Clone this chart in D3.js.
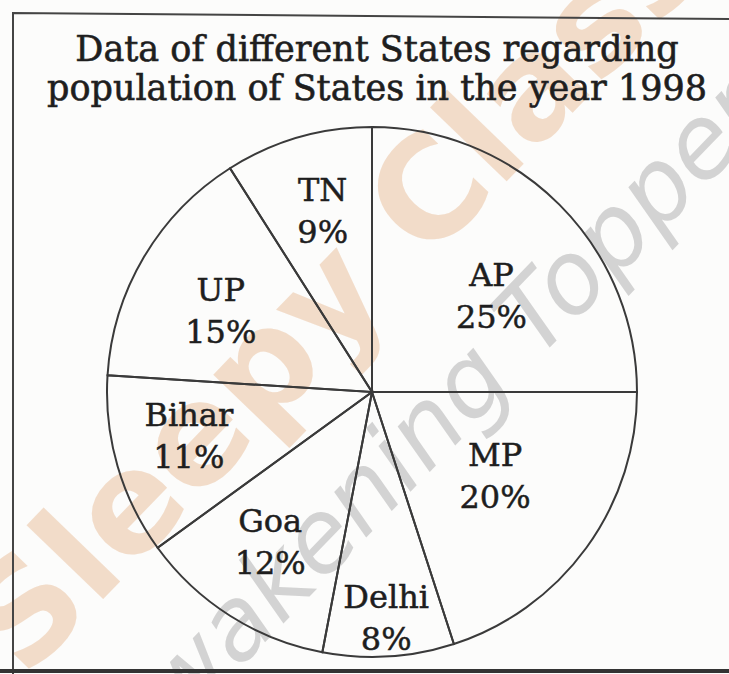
<!DOCTYPE html>
<html>
<head>
<meta charset="utf-8">
<script src="https://cdn.jsdelivr.net/npm/d3@7"></script>
<style>
  html, body { margin: 0; padding: 0; background: #fcfcfb; }
  svg { display: block; }
</style>
</head>
<body>
<svg id="chart" width="729" height="674"></svg>
<script>
// states and their share of population (1998), clockwise from 12 o'clock
const states = ["AP", "MP", "Delhi", "Goa", "Bihar", "UP", "TN"];
const shares = [25, 20, 8, 12, 11, 15, 9];
const titleLines = [
    "Data of different States regarding",
    "population of States in the year 1998"
];

const width = 729, height = 674;
const cx = 372, cy = 392, radius = 265;

// where each label sits, as a fraction of the radius (+ small angle nudge, degrees)
const labelPlace = {
    AP: [0.58, 6], MP: [0.56, -2], Delhi: [0.85, 0], Goa: [0.68, 2],
    Bihar: [0.71, 3], UP: [0.65, -2], TN: [0.71, 1]
};

const svg = d3.select("#chart");
const serif = "'DejaVu Serif', 'Liberation Serif', serif";
const ink = "#1e1e1e";

// watermarks of the scan
svg.append("text")
    .attr("transform", "translate(25,680) rotate(-46)")
    .attr("font-family", "'DejaVu Sans', sans-serif")
    .attr("font-weight", "bold")
    .attr("font-size", 140)
    .attr("fill", "#f1d8c3")
    .attr("fill-opacity", 0.9)
    .text("Sleepy Classes");

svg.append("text")
    .attr("transform", "translate(134,778) rotate(-46)")
    .attr("font-family", "'DejaVu Sans', sans-serif")
    .attr("font-style", "italic")
    .attr("font-size", 100)
    .attr("fill", "#c6c6c6")
    .attr("fill-opacity", 0.75)
    .text("Awakening Toppers");

// frame of the scanned figure
svg.append("path")
    .attr("d", "M13,674 L13,13 L729,19")
    .attr("fill", "none")
    .attr("stroke", "#444")
    .attr("stroke-width", 2);
svg.append("line")
    .attr("x1", 0).attr("x2", width)
    .attr("y1", 671).attr("y2", 671)
    .attr("stroke", "#333").attr("stroke-width", 4);

// title
svg.append("g")
    .selectAll("text")
    .data(titleLines)
    .join("text")
    .attr("x", 377)
    .attr("y", (d, i) => 61 + i * 39)
    .attr("text-anchor", "middle")
    .attr("font-family", serif)
    .attr("font-size", 35)
    .attr("fill", ink)
    .attr("stroke", ink)
    .attr("stroke-width", 0.6)
    .text(d => d);

// pie
const data = states.map((s, i) => ({ state: s, value: shares[i] }));
const pie = d3.pie().value(d => d.value).sort(null);
const arcGenerator = d3.arc().innerRadius(0).outerRadius(radius);
const arcs = pie(data);

const g = svg.append("g").attr("transform", `translate(${cx},${cy})`);

g.selectAll("path")
    .data(arcs)
    .join("path")
    .attr("d", arcGenerator)
    .attr("fill", "none")
    .attr("stroke", "#3a3a3a")
    .attr("stroke-width", 2);

const labels = g.selectAll("g.label")
    .data(arcs)
    .join("g")
    .attr("class", "label")
    .attr("transform", d => {
        const [f, nudge] = labelPlace[d.data.state];
        const a = (d.startAngle + d.endAngle) / 2 + nudge * Math.PI / 180;
        const r = radius * f;
        return `translate(${r * Math.sin(a)},${-r * Math.cos(a)})`;
    })
    .attr("font-family", serif)
    .attr("font-size", 32)
    .attr("fill", ink)
    .attr("stroke", ink)
    .attr("stroke-width", 0.5)
    .attr("text-anchor", "middle");

labels.append("text")
    .attr("y", -9)
    .text(d => d.data.state);
labels.append("text")
    .attr("y", 33)
    .text(d => d.data.value + "%");
</script>
</body>
</html>
